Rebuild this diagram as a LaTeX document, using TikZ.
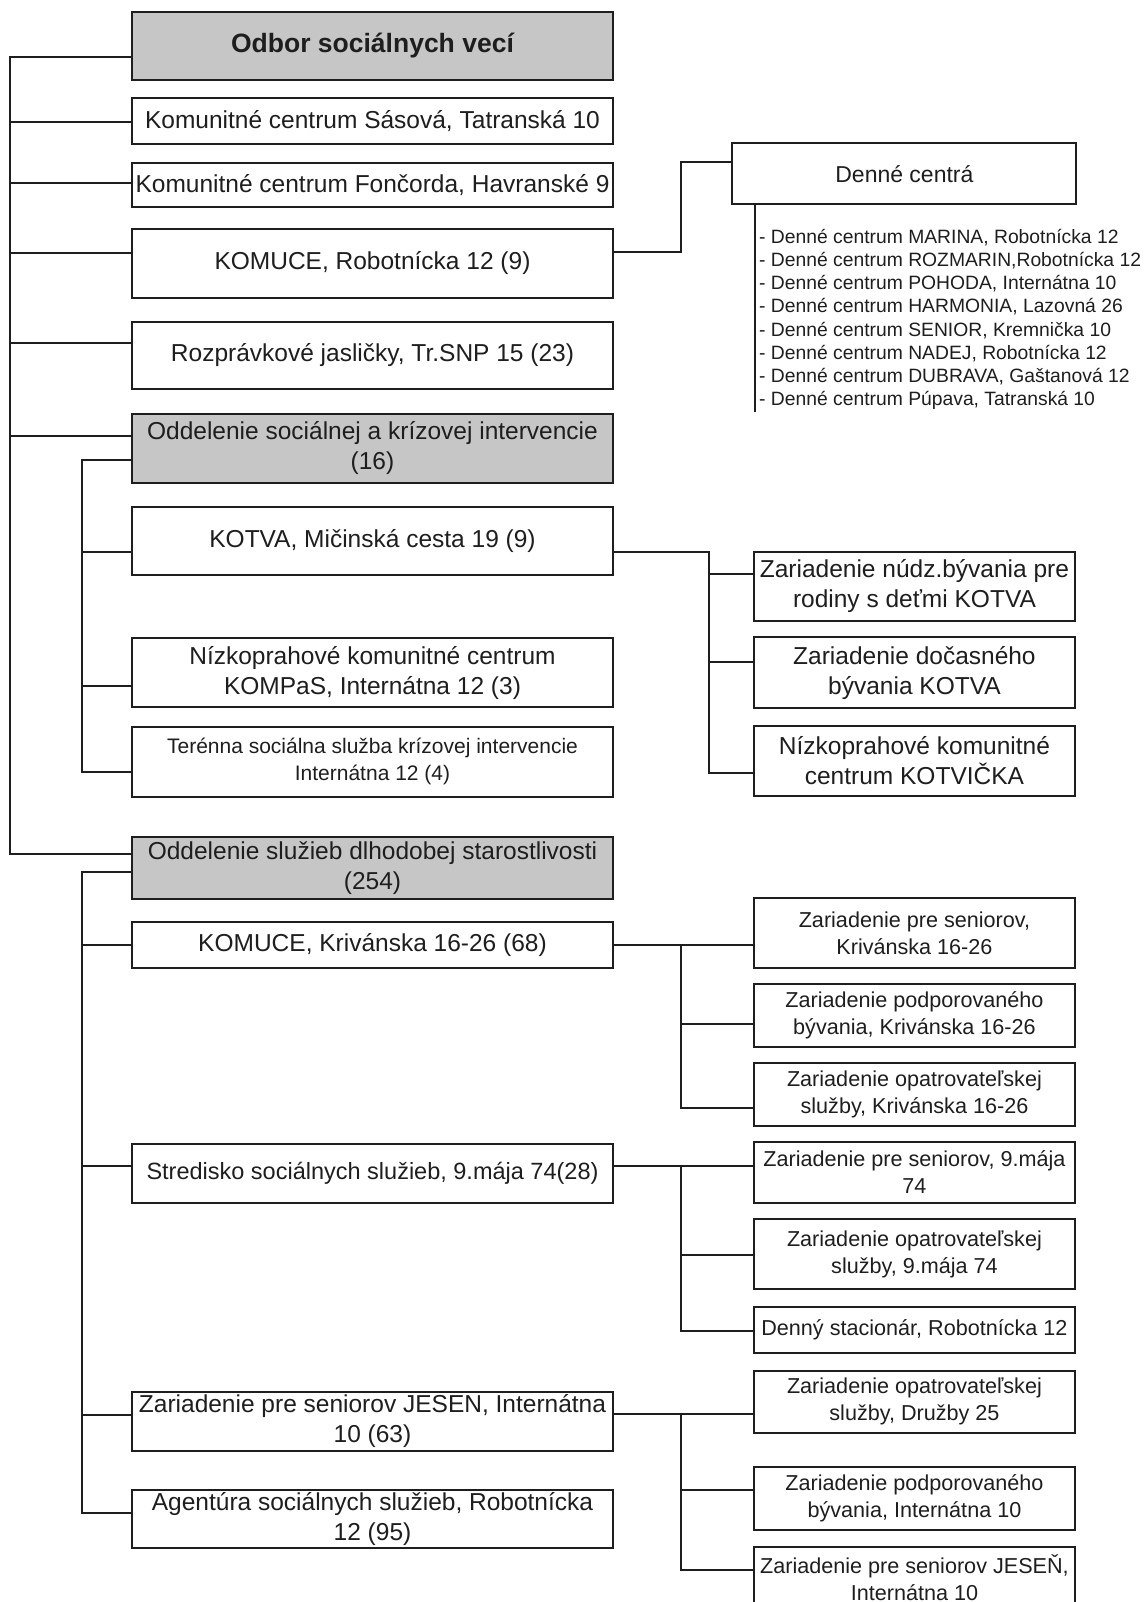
\documentclass[tikz,border=0pt]{standalone}
\usepackage{fontspec}
\setmainfont{Liberation Sans}
\definecolor{boxgray}{RGB}{198,198,198}
\definecolor{ink}{RGB}{30,30,30}
\newcommand\fsz[2]{\fontsize{#1pt}{#2pt}\selectfont}
\begin{document}
\begin{tikzpicture}[x=1pt,y=-1pt,
  obox/.style={draw=ink, line width=2pt, fill=white, inner sep=0pt, align=center, text=ink, anchor=center},
  gobox/.style={obox, fill=boxgray},
  lcol/.style={minimum width=481pt},
  rcol/.style={minimum width=320.5pt},
  fbig/.style={font=\fsz{24.5}{30}},
  fsmall/.style={font=\fsz{21.6}{27}},
  ln/.style={draw=ink, line width=2pt},
  dlist/.style={anchor=base west, inner sep=0pt, text=ink, font=\fsz{19.3}{22}},
]
\fill[white] (0,0) rectangle (1146,1602);
\useasboundingbox (0,0) rectangle (1146,1602);

% left column
\node[gobox, lcol, minimum height=68.3pt, font=\bfseries\fsz{26.5}{31}] (odbor) at (372.5,45.85) {Odbor sociálnych vecí};
\node[obox, lcol, fbig, minimum height=45.7pt] (sasova) at (372.5,121.15) {Komunitné centrum Sásová, Tatranská 10};
\node[obox, lcol, fbig, minimum height=44pt] (foncorda) at (372.5,184.7) {Komunitné centrum Fončorda, Havranské 9};
\node[obox, lcol, fbig, minimum height=68.4pt] (komr) at (372.5,263.5) {KOMUCE, Robotnícka 12 (9)};
\node[obox, lcol, fbig, minimum height=67.6pt] (rozpr) at (372.5,355.5) {Rozprávkové jasličky, Tr.SNP 15 (23)};
\node[gobox, lcol, fbig, minimum height=68.4pt] (soc) at (372.5,448.5) {Oddelenie sociálnej a krízovej intervencie\\(16)};
\node[obox, lcol, fbig, minimum height=67.7pt] (kotva) at (372.5,541.15) {KOTVA, Mičinská cesta 19 (9)};
\node[obox, lcol, fbig, minimum height=69pt] (kompas) at (372.5,672.8) {Nízkoprahové komunitné centrum\\KOMPaS, Internátna 12 (3)};
\node[obox, lcol, font=\fsz{21}{27}, minimum height=70pt] (terenna) at (372.5,761.7) {Terénna sociálna služba krízovej intervencie\\Internátna 12 (4)};
\node[gobox, lcol, fbig, minimum height=62.6pt] (sluzieb) at (372.5,868) {Oddelenie služieb dlhodobej starostlivosti\\(254)};
\node[obox, lcol, fbig, minimum height=46.6pt] (kriv) at (372.5,945) {KOMUCE, Krivánska 16-26 (68)};
\node[obox, lcol, font=\fsz{23.5}{29}, minimum height=58.7pt] (stred) at (372.5,1173.35) {Stredisko sociálnych služieb, 9.mája 74(28)};
\node[obox, lcol, fbig, minimum height=59pt] (jesen) at (372.5,1421.2) {Zariadenie pre seniorov JESEN, Internátna\\10 (63)};
\node[obox, lcol, fbig, minimum height=57.7pt] (agent) at (372.5,1518.85) {Agentúra sociálnych služieb, Robotnícka\\12 (95)};

% right column
\node[obox, font=\fsz{23}{28}, minimum width=344pt, minimum height=61pt] (denne) at (904.4,173.8) {Denné centrá};
\node[obox, rcol, fbig, minimum height=69pt] (nudz) at (914.45,586.2) {Zariadenie núdz.bývania pre\\rodiny s deťmi KOTVA};
\node[obox, rcol, fbig, minimum height=71pt] (docas) at (914.45,672.8) {Zariadenie dočasného\\bývania KOTVA};
\node[obox, rcol, fbig, minimum height=70pt] (kotvicka) at (914.45,761) {Nízkoprahové komunitné\\centrum KOTVIČKA};
\node[obox, rcol, fsmall, minimum height=69.4pt] (zsk) at (914.45,933) {Zariadenie pre seniorov,\\Krivánska 16-26};
\node[obox, rcol, fsmall, minimum height=62.4pt] (zpk) at (914.45,1015.5) {Zariadenie podporovaného\\bývania, Krivánska 16-26};
\node[obox, rcol, fsmall, minimum height=62.7pt] (zok) at (914.45,1094.65) {Zariadenie opatrovateľskej\\služby, Krivánska 16-26};
\node[obox, rcol, fsmall, minimum height=60.4pt] (zs9) at (914.45,1172.5) {Zariadenie pre seniorov, 9.mája\\74};
\node[obox, rcol, fsmall, minimum height=70.3pt] (zo9) at (914.45,1254.15) {Zariadenie opatrovateľskej\\služby, 9.mája 74};
\node[obox, rcol, fsmall, minimum height=46pt] (dst) at (914.45,1329.7) {Denný stacionár, Robotnícka 12};
\node[obox, rcol, fsmall, minimum height=62pt] (zod) at (914.45,1401.7) {Zariadenie opatrovateľskej\\služby, Družby 25};
\node[obox, rcol, fsmall, minimum height=63.3pt] (zpi) at (914.45,1498.35) {Zariadenie podporovaného\\bývania, Internátna 10};
\node[obox, rcol, fsmall, minimum height=61.3pt] (zsj) at (914.45,1577.35) {Zariadenie pre seniorov JESEŇ,\\Internátna 10};

% Denne centra list
\node[dlist] (d1) at (759,243.6) {- Denné centrum MARINA, Robotnícka 12};
\node[dlist] (d2) at (759,266.7) {- Denné centrum ROZMARIN,Robotnícka 12};
\node[dlist] (d3) at (759,289.8) {- Denné centrum POHODA, Internátna 10};
\node[dlist] (d4) at (759,312.9) {- Denné centrum HARMONIA, Lazovná 26};
\node[dlist] (d5) at (759,336.0) {- Denné centrum SENIOR, Kremnička 10};
\node[dlist] (d6) at (759,359.1) {- Denné centrum NADEJ, Robotnícka 12};
\node[dlist] (d7) at (759,382.2) {- Denné centrum DUBRAVA, Gaštanová 12};
\node[dlist] (d8) at (759,405.3) {- Denné centrum Púpava, Tatranská 10};

% main spine
\coordinate (m1) at (9.5,56.7);
\coordinate (m2) at (9.5,121.7);
\coordinate (m3) at (9.5,182.7);
\coordinate (m4) at (9.5,253.3);
\coordinate (m5) at (9.5,343.3);
\coordinate (m6) at (9.5,436);
\coordinate (m7) at (9.5,854);
\draw[ln] (m1 -| odbor.west) -- (m1) -- (m7) -- (m7 -| sluzieb.west);
\draw[ln] (m2) -- (m2 -| sasova.west);
\draw[ln] (m3) -- (m3 -| foncorda.west);
\draw[ln] (m4) -- (m4 -| komr.west);
\draw[ln] (m5) -- (m5 -| rozpr.west);
\draw[ln] (m6) -- (m6 -| soc.west);

% sub spine A
\coordinate (a1) at (82.2,460);
\coordinate (a2) at (82.2,551.7);
\coordinate (a3) at (82.2,685.7);
\coordinate (a4) at (82.2,772.3);
\draw[ln] (a1 -| soc.west) -- (a1) -- (a4) -- (a4 -| terenna.west);
\draw[ln] (a2) -- (a2 -| kotva.west);
\draw[ln] (a3) -- (a3 -| kompas.west);

% sub spine B
\coordinate (b1) at (82.2,872.3);
\coordinate (b2) at (82.2,945);
\coordinate (b3) at (82.2,1165.7);
\coordinate (b4) at (82.2,1415);
\coordinate (b5) at (82.2,1512.7);
\draw[ln] (b1 -| sluzieb.west) -- (b1) -- (b5) -- (b5 -| agent.west);
\draw[ln] (b2) -- (b2 -| kriv.west);
\draw[ln] (b3) -- (b3 -| stred.west);
\draw[ln] (b4) -- (b4 -| jesen.west);

% KOMUCE Robotnicka -> Denne centra
\coordinate (k1) at (681.4,252);
\coordinate (k2) at (681.4,161.7);
\draw[ln] (k1 -| komr.east) -- (k1) -- (k2) -- (k2 -| denne.west);
\coordinate (dl) at (755,411.7);
\draw[ln] (dl |- denne.south) -- (dl);

% KOTVA
\coordinate (t1) at (709,551.7);
\coordinate (t2) at (709,574.3);
\coordinate (t3) at (709,661.7);
\coordinate (t4) at (709,773.3);
\draw[ln] (t1 -| kotva.east) -- (t1) -- (t4) -- (t4 -| kotvicka.west);
\draw[ln] (t2) -- (t2 -| nudz.west);
\draw[ln] (t3) -- (t3 -| docas.west);

% KOMUCE Krivanska
\coordinate (r1) at (681.4,945);
\coordinate (r2) at (681.4,1024);
\coordinate (r3) at (681.4,1108.3);
\draw[ln] (r1 -| kriv.east) -- (r1) -- (r3) -- (r3 -| zok.west);
\draw[ln] (r1) -- (r1 -| zsk.west);
\draw[ln] (r2) -- (r2 -| zpk.west);

% Stredisko
\coordinate (q1) at (681.4,1165.7);
\coordinate (q2) at (681.4,1255);
\coordinate (q3) at (681.4,1330.7);
\draw[ln] (q1 -| stred.east) -- (q1) -- (q3) -- (q3 -| dst.west);
\draw[ln] (q1) -- (q1 -| zs9.west);
\draw[ln] (q2) -- (q2 -| zo9.west);

% JESEN
\coordinate (j1) at (681.4,1414);
\coordinate (j2) at (681.4,1490);
\coordinate (j3) at (681.4,1570);
\draw[ln] (j1 -| jesen.east) -- (j1) -- (j3) -- (j3 -| zsj.west);
\draw[ln] (j1) -- (j1 -| zod.west);
\draw[ln] (j2) -- (j2 -| zpi.west);
\end{tikzpicture}
\end{document}
